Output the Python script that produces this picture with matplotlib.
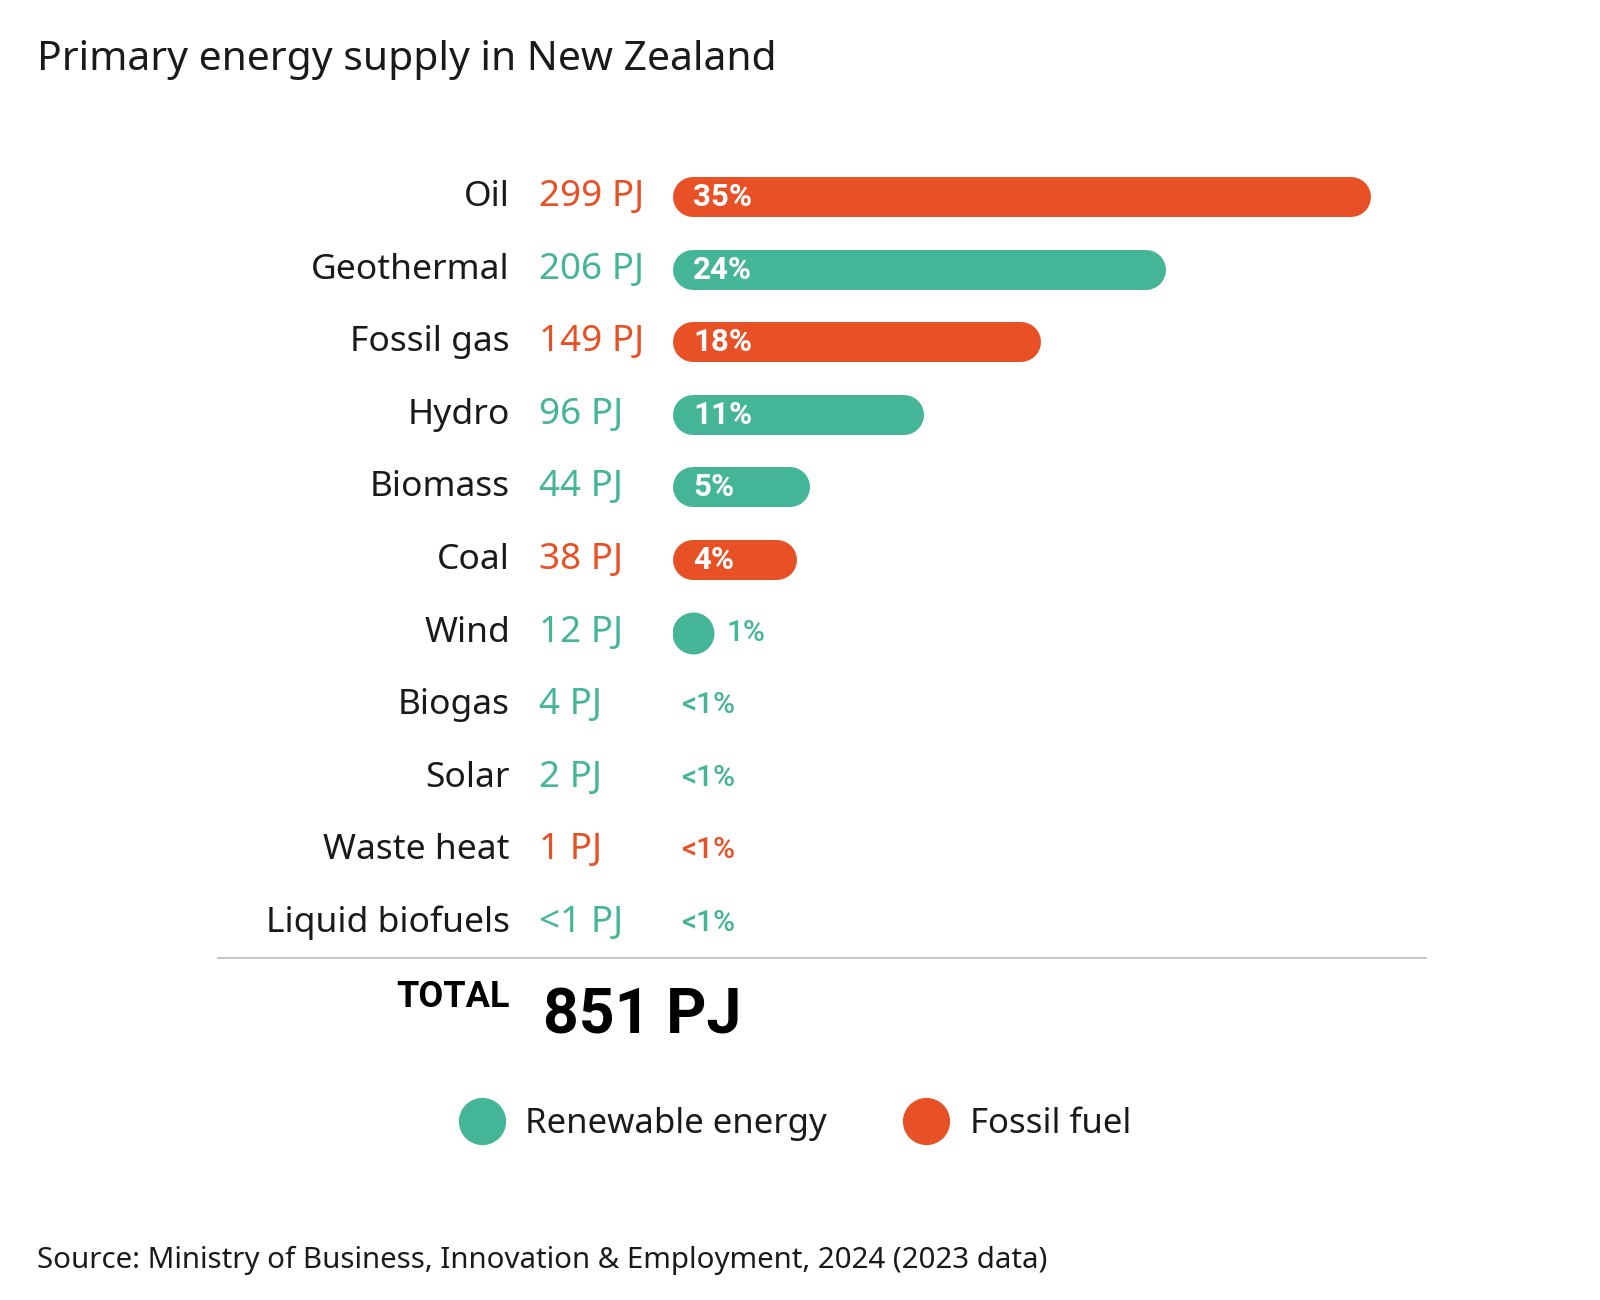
import matplotlib
matplotlib.use('Agg')
import matplotlib.pyplot as plt
import matplotlib.transforms as mtransforms
from matplotlib.lines import Line2D

plt.rcParams['font.family'] = ['Noto Sans', 'DejaVu Sans']
BOLD_FONT = ['Roboto', 'DejaVu Sans']

# data (PJ, 2023)
sources = ['Oil', 'Geothermal', 'Fossil gas', 'Hydro', 'Biomass', 'Coal', 'Wind',
           'Biogas', 'Solar', 'Waste heat', 'Liquid biofuels']
pj_values = [299, 206, 149, 96, 44, 38, 12, 4, 2, 1, 0.4]
pj_labels = ['299 PJ', '206 PJ', '149 PJ', '96 PJ', '44 PJ', '38 PJ', '12 PJ',
             '4 PJ', '2 PJ', '1 PJ', '<1 PJ']
pct_labels = ['35%', '24%', '18%', '11%', '5%', '4%', '1%', '<1%', '<1%', '<1%', '<1%']
renewable = [False, True, False, True, True, False, True, True, True, False, True]
total_label = '851 PJ'

GREEN = '#44b597'
ORANGE = '#e85026'
TEXT = '#1a1a1a'

W, H = 1600, 1300
fig = plt.figure(figsize=(16, 13), dpi=100)

# bar area, x in PJ (about 2.2 px per PJ), y = row index
px_per_pj = 2.2
row_gap = 72.6
top_row = 197
ax_left = 673
ax_w = 727
ax_top = top_row - row_gap / 2
ax_h = row_gap * len(sources)
ax = fig.add_axes([ax_left / W, 1 - (ax_top + ax_h) / H, ax_w / W, ax_h / H])
ax.set_xlim(0, ax_w / px_per_pj)
ax.set_ylim(len(sources) - 0.5, -0.5)
ax.axis('off')

cap = 20 / px_per_pj  # bar end radius in data units
row_trans = mtransforms.blended_transform_factory(fig.transFigure, ax.transData)

for i, (name, v, lab, pct, ren) in enumerate(zip(sources, pj_values, pj_labels, pct_labels, renewable)):
    c = GREEN if ren else ORANGE
    fig.text(510 / W, i, name, transform=row_trans, ha='right', va='center',
             fontsize=25.5, color=TEXT)
    fig.text(539 / W, i, lab, transform=row_trans, ha='left', va='center',
             fontsize=26.5, color=c)
    if pct == '<1%':
        ax.text(3.6, i, pct, ha='left', va='center', fontsize=21.5, color=c,
                family=BOLD_FONT, fontweight='medium')
    elif v * px_per_pj < 40:
        ax.scatter([cap], [i], s=(42 * 0.72) ** 2, color=c, linewidths=0)
        ax.text(24.5, i, pct, ha='left', va='center', fontsize=21.5, color=c,
                family=BOLD_FONT, fontweight='medium')
    else:
        ax.plot([cap, cap + v], [i, i], lw=40 * 0.72, color=c,
                solid_capstyle='round')
        ax.text(20 / px_per_pj, i, pct, ha='left', va='center', fontsize=22.5,
                color='white', family=BOLD_FONT, fontweight='bold')

# separator + total
fig.add_artist(Line2D([218 / W, 1426 / W], [1 - 958 / H] * 2, color='#bbbbbb', lw=1.2))
fig.text(510 / W, 1 - 997 / H, 'TOTAL', ha='right', va='center', fontsize=26,
         family=BOLD_FONT, fontweight='bold', color='black')
fig.text(543 / W, 1 - 1016 / H, total_label, ha='left', va='center', fontsize=45,
         family=BOLD_FONT, fontweight='bold', color='black')

# legend
handles = [Line2D([], [], ls='none', marker='o', ms=34, color=GREEN, mew=0),
           Line2D([], [], ls='none', marker='o', ms=34, color=ORANGE, mew=0)]
fig.legend(handles, ['Renewable energy', 'Fossil fuel'], loc='center',
           bbox_to_anchor=(0.497, 1 - 1124 / H), ncol=2, frameon=False,
           fontsize=25, handlelength=1.3, handletextpad=0.6, columnspacing=2.2,
           labelcolor=TEXT)

fig.text(37 / W, 1 - 60 / H, 'Primary energy supply in New Zealand', ha='left',
         va='center', fontsize=29.4, color=TEXT)
fig.text(37 / W, 1 - 1260 / H,
         'Source: Ministry of Business, Innovation & Employment, 2024 (2023 data)',
         ha='left', va='center', fontsize=21.2, color=TEXT)

fig.savefig('out.png', dpi=100, facecolor='white')
